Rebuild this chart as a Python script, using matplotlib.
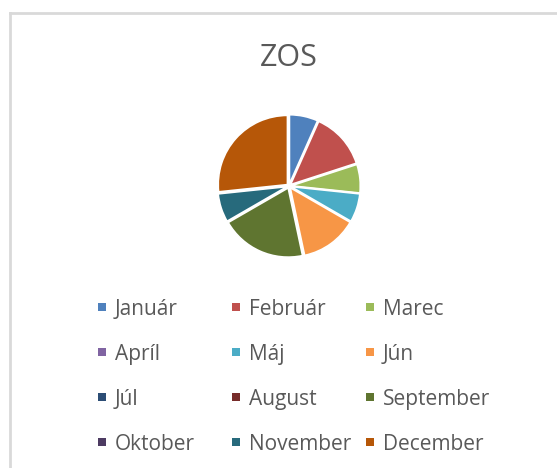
import matplotlib
matplotlib.use("Agg")
import matplotlib.pyplot as plt
from matplotlib.patches import Rectangle

# data
months = ["Január", "Február", "Marec", "Apríl", "Máj", "Jún",
          "Júl", "August", "September", "Oktober", "November", "December"]
values = [1, 2, 1, 0, 1, 2, 0, 0, 3, 0, 1, 4]
colors = ["#4F81BD", "#C0504D", "#9BBB59", "#8064A2", "#4BACC6", "#F79646",
          "#2C4D75", "#772C2A", "#5F7530", "#4D3B62", "#276A7C", "#B65708"]
title = "ZOS"

W, H = 557, 468
FONT = "Open Sans"
TXT = "#595959"

fig = plt.figure(figsize=(W / 100, H / 100), dpi=100)

# chart area border (only top and left visible in the crop)
fig.add_artist(plt.Line2D([10 / W, 10 / W], [0, 1 - 13 / H], transform=fig.transFigure,
                          color="#D9D9D9", lw=2))
fig.add_artist(plt.Line2D([10 / W, 1], [1 - 13 / H, 1 - 13 / H], transform=fig.transFigure,
                          color="#D9D9D9", lw=2))

fig.text(289 / W, 1 - 58 / H, title, ha="center", va="center",
         fontsize=22, color=TXT, family=FONT)

# pie
cx, cy, r = 289, 186, 72
ax = fig.add_axes([(cx - r) / W, (H - cy - r) / H, 2 * r / W, 2 * r / H])
ax.pie(values, colors=colors, startangle=90, counterclock=False,
       explode=[0.03] * len(values),
       wedgeprops=dict(edgecolor="white", linewidth=1.2))
ax.set_xlim(-1.04, 1.04)
ax.set_ylim(-1.04, 1.04)
ax.set_aspect("equal")
ax.axis("off")

# legend, row-wise, 3 columns
col_x = [98, 232, 366]
row_y0, row_dy = 307, 45
sq = 8
for i, (name, c) in enumerate(zip(months, colors)):
    row, col = divmod(i, 3)
    x = col_x[col]
    y = row_y0 + row * row_dy
    fig.add_artist(Rectangle((x / W, (H - y - sq / 2) / H), sq / W, sq / H,
                             transform=fig.transFigure, facecolor=c, edgecolor="none"))
    fig.text((x + 17) / W, 1 - y / H, name, ha="left", va="center_baseline",
             fontsize=15, color=TXT, family=FONT)

fig.savefig("out.png", dpi=100)
